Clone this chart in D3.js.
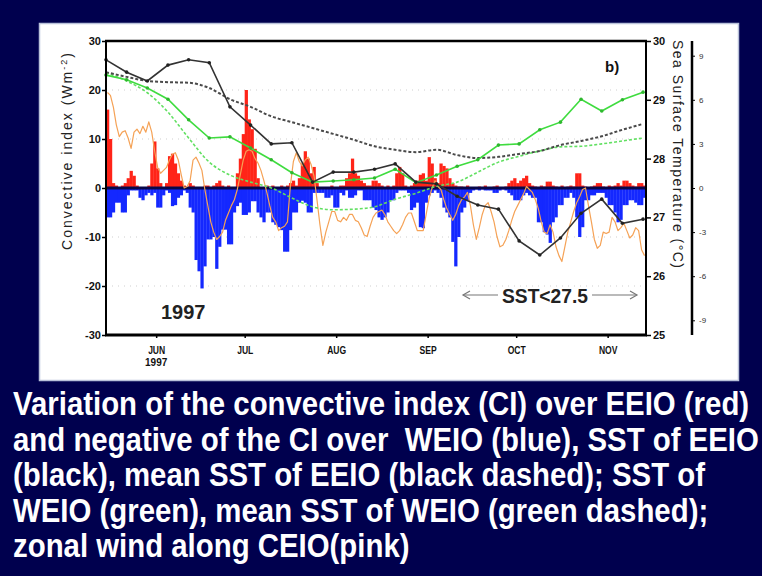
<!DOCTYPE html>
<html>
<head>
<meta charset="utf-8">
<script src="https://cdn.jsdelivr.net/npm/d3@7"></script>
<style>
  html, body { margin: 0; padding: 0; background: #00004e; }
  svg { display: block; }
</style>
</head>
<body>
<svg id="chart" width="762" height="576"></svg>
<script>
// ---- Daily convective index over EEIO (W m-2), 15 May - 13 Nov 1997 ----
const eeioCI = [
  16, 10, 1, 0.5, 0, 0.5, 1, 2, 3.5, 2.5,
  0.5, 0, 0, 0, 0.5, 5, 9.5, 4, 1, 0,
  1, 6.5, 7, 5, 3, 1.5, 0.5, 0, 1, 0.5,
  0, 0, 0, 0.5, 0.5, 0, 0.5, 1, 1.5, 0.5,
  0, 0.5, 0, 0, 3, 6, 11, 20, 14, 12,
  8, 2, 0, 0, 0.5, 0, 0.5, 0, 0, 0.5,
  0, 0.5, 1, 1.5, 0.5, 2, 5, 7.5, 6, 3,
  4.3, 1, 0, 0, 0, 0, 0.5, 0, 0, 0.5,
  0.5, 2, 3, 6, 3, 2.5, 1.5, 1, 0.5, 0.5,
  1.5, 1.5, 1, 0.5, 0, 0.5, 0, 0.5, 3, 4.3,
  3, 0.5, 0, 0.5, 1, 1.5, 2.7, 3, 1.5, 6.3,
  5, 2, 1, 5, 4.5, 4, 2, 1, 0.5, 0.3,
  0.3, 0, 0.5, 0, 0, 0, 0.3, 0, 0.5, 0,
  0, 0.3, 0.5, 0, 0, 0.3, 1, 1.5, 2, 1,
  1.5, 2, 2.5, 1, 0.5, 0.3, 0, 0.5, 0.3, 1.3,
  1.3, 0.5, 0.3, 0, 0.5, 0, 0.3, 0.5, 0.3, 3,
  3, 0.5, 0.3, 0, 0.3, 0.5, 1, 1, 0.3, 0,
  0.5, 0.3, 0.5, 1, 0.5, 1.5, 1.5, 1, 0.5, 0.3,
  1, 1, 0.5
];

// ---- Negative of the daily convective index over WEIO (W m-2) ----
const weioNegCI = [
  -6, -6, -5, -3, -3, -5, -5, -1.5, -0.5, -0.5,
  -0.5, -2, -2.5, -1.5, -1, -1.5, -1, -4, -4, -1.5,
  -0.5, -1, -3.7, -3.5, -2, -1.5, -0.5, -1, -4, -5,
  -14.7, -17, -20.5, -16, -10.5, -10.5, -10, -16.5, -12, -8.5,
  -8.5, -11.5, -11.5, -5, -3.7, -3, -5.5, -5.5, -5, -2.7,
  -2.7, -5, -6, -7, -5, -5, -7, -7.5, -8, -8.6,
  -13, -13, -8.6, -5, -5, -3, -2.6, -3, -5, -5,
  -1, -1, -1, -1, -2, -2, -1.5, -4, -4, -1,
  -1.5, -0.5, -2, -2, -1.5, -0.5, -0.5, -2.5, -2.5, -2.5,
  -4, -4.5, -6, -6.5, -6, -5, -2.5, -2.5, -1, -0.5,
  -0.5, -0.5, -1, -4.5, -4, -3, -8, -8.2, -3, -1.5,
  -1, -0.5, -1, -2, -4, -5, -6, -11, -16, -10,
  -5, -4, -2.5, -1, -0.5, -0.3, -0.5, -0.3, -0.5, -0.5,
  -0.5, -1, -1, -0.5, -0.3, -0.5, -1, -1.5, -2.5, -2.5,
  -2.5, -1.5, -1, -1.5, -2, -2, -7, -7, -9, -9.5,
  -11.2, -7, -6, -3.5, -3.5, -2, -2, -1, -2, -6,
  -10, -8, -2.5, -2.5, -1.5, -1.5, -1, -1, -1, -2,
  -3.5, -3.5, -5, -7, -6.5, -3.5, -3.5, -2.5, -2.5, -3,
  -3.5, -3.5, -2
];

// ---- Daily zonal wind along CEIO (m s-1) ----
const ceioWind = [
  6.5, 6.3, 5.5, 4.3, 3.5, 3.8, 3.9, 3.4, 2.7, 3.8,
  4.0, 3.7, 4.2, 3.8, 4.5, 3.8, 2.5, 1.4, 1.0, 1.2,
  1.4, 1.9, 2.3, 2.4, 1.9, 0.9, 0.0, 0.1, 0.5, 1.9,
  2.1, 1.7, 1.2, -0.1, -1.2, -2.3, -3.0, -3.5, -3.3, -3.0,
  -2.2, -1.7, -1.2, -0.8, -0.1, 0.9, 1.9, 2.5, 2.6, 2.5,
  2.0, 1.7, 1.2, 0.5, -0.3, -1.2, -2.0, -2.3, -2.9, -2.7,
  -2.6, -2.3, 0.2, 1.8, 2.4, 1.8, 1.5, 1.9, 2.1, 1.6,
  0.8, -0.8, -2.5, -3.9, -3.0, -2.3, -1.6, -1.6, -2.2, -2.3,
  -2.0, -2.2, -1.8, -1.8, -2.2, -2.3, -2.7, -3.2, -3.3, -2.6,
  -2.0, -1.7, -1.6, -1.5, -1.8, -2.3, -2.6, -2.9, -3.1, -2.9,
  -2.5, -2.0, -1.7, -1.7, -2.3, -2.9, -2.9, -2.9, -1.8, -0.7,
  0.0, 0.5, 0.1, -0.1, -0.8, -1.4, -1.8, -2.2, -1.8, -1.2,
  -0.8, -0.6, -0.3, -1.2, -2.5, -3.5, -2.7, -1.8, -1.2, -1.0,
  -1.6, -2.3, -3.3, -4.0, -3.9, -3.5, -2.9, -2.2, -1.6, -1.2,
  -0.8, -0.4, 0.1, -0.1, -0.3, -0.8, -1.4, -2.3, -3.0, -3.1,
  -2.5, -3.0, -4.0, -4.6, -5.0, -4.0, -3.0, -2.3, -1.6, -1.0,
  -0.6, -0.1, 0.0, -1.2, -2.3, -3.5, -4.1, -3.9, -3.0, -3.1,
  -3.0, -2.0, -2.3, -2.9, -2.7, -2.4, -2.9, -3.4, -3.2, -2.7,
  -2.9, -4.2, -4.6
];

// ---- Weekly SST (deg C) ----
const sstEEIO = [29.68, 29.47, 29.32, 29.59, 29.68, 29.63, 28.88, 28.57, 28.25, 28.27,
  27.60, 27.77, 27.77, 27.82, 27.91, 27.60, 27.57, 27.36, 27.21, 27.14,
  26.60, 26.36, 26.65, 27.07, 27.31, 26.90, 26.97];
const meanSstEEIO = [29.47, 29.39, 29.32, 29.30, 29.29, 29.20, 29.01, 28.88, 28.72, 28.62,
  28.52, 28.42, 28.32, 28.21, 28.15, 28.11, 28.15, 28.06, 28.01, 28.03,
  28.08, 28.13, 28.23, 28.30, 28.38, 28.49, 28.59];
const sstWEIO = [29.42, 29.34, 29.20, 29.01, 28.66, 28.35, 28.37, 28.18, 27.98, 27.76,
  27.60, 27.62, 27.64, 27.67, 27.82, 27.59, 27.72, 27.87, 27.98, 28.23,
  28.25, 28.49, 28.62, 29.01, 28.81, 29.00, 29.13];
const meanSstWEIO = [29.46, 29.32, 29.12, 28.79, 28.35, 27.94, 27.72, 27.60, 27.50, 27.33,
  27.18, 27.13, 27.14, 27.18, 27.31, 27.41, 27.53, 27.60, 27.77, 27.94,
  28.04, 28.13, 28.20, 28.21, 28.25, 28.30, 28.35];

// ---- Axis ticks and labels ----
const ciTicks = [-30, -20, -10, 0, 10, 20, 30];
const ciGrid = [-20, -10, 10, 20];
const sstTicks = [25, 26, 27, 28, 29, 30];
const windTicks = [-9, -6, -3, 0, 3, 6, 9];
const monthLabels = ["JUN", "JUL", "AUG", "SEP", "OCT", "NOV"];
const captionLines = [
  "Variation of the convective index (CI) over EEIO (red)",
  "and negative of the CI over  WEIO (blue), SST of EEIO",
  "(black), mean SST of EEIO (black dashed); SST of",
  "WEIO (green), mean SST of WEIO (green dashed);",
  "zonal wind along CEIO(pink)"
];

const startDate = new Date(1997, 4, 15);
const endDate = new Date(1997, 10, 14);
const dayDates = d3.range(eeioCI.length).map(i => d3.timeDay.offset(startDate, i));
const weekDates = d3.range(sstEEIO.length).map(i => d3.timeDay.offset(startDate, 7 * i));
const monthStarts = d3.range(5, 11).map(m => new Date(1997, m, 1));

const svg = d3.select("#chart");
const plot = { left: 106, right: 646, top: 41, bottom: 335 };

const x = d3.scaleTime().domain([startDate, endDate]).range([plot.left, plot.right]);
const yCI = d3.scaleLinear().domain([-30, 30]).range([plot.bottom, plot.top]);
const ySST = d3.scaleLinear().domain([25, 30]).range([plot.bottom, plot.top]);
const yWind = d3.scaleLinear().domain([-10, 10]).range([plot.bottom, plot.top]);

const tickFont = "'Liberation Sans', Arial, sans-serif";

// white figure panel
svg.append("rect")
  .attr("x", 39.5).attr("y", 23.5).attr("width", 699).attr("height", 357)
  .attr("fill", "#ffffff").attr("stroke", "#b9c1d9").attr("stroke-width", 1.5);

// faint dotted gridlines
svg.append("g").selectAll("line").data(ciGrid).join("line")
  .attr("x1", plot.left).attr("x2", plot.right)
  .attr("y1", d => yCI(d)).attr("y2", d => yCI(d))
  .attr("stroke", "#cfcfcf").attr("stroke-width", 1).attr("stroke-dasharray", "1,5");

// daily bars
const barW = d => x(d3.timeDay.offset(d, 1)) - x(d) + 0.3;
svg.append("g").selectAll("rect").data(eeioCI).join("rect")
  .attr("x", (v, i) => x(dayDates[i]))
  .attr("width", (v, i) => barW(dayDates[i]))
  .attr("y", v => yCI(v))
  .attr("height", v => yCI(0) - yCI(v))
  .attr("fill", "#ff2418");
svg.append("g").selectAll("rect").data(weioNegCI).join("rect")
  .attr("x", (v, i) => x(dayDates[i]))
  .attr("width", (v, i) => barW(dayDates[i]))
  .attr("y", yCI(0))
  .attr("height", v => yCI(v) - yCI(0))
  .attr("fill", "#1428ff");

// zero line
svg.append("line")
  .attr("x1", plot.left).attr("x2", plot.right)
  .attr("y1", yCI(0)).attr("y2", yCI(0))
  .attr("stroke", "#08084a").attr("stroke-width", 3);

// zonal wind
const midDay = d => d3.timeHour.offset(d, 12);
svg.append("path")
  .datum(ceioWind)
  .attr("fill", "none").attr("stroke", "#f5a256").attr("stroke-width", 1.2)
  .attr("stroke-linejoin", "round")
  .attr("d", d3.line().x((v, i) => x(midDay(dayDates[i]))).y(v => yWind(v)));

// SST curves
function sstLine(values, color, width, dash, curve) {
  svg.append("path")
    .datum(values)
    .attr("fill", "none").attr("stroke", color).attr("stroke-width", width)
    .attr("stroke-dasharray", dash)
    .attr("d", d3.line().curve(curve).x((v, i) => x(weekDates[i])).y(v => ySST(v)));
}
sstLine(meanSstWEIO, "#62e062", 1.6, "3,2", d3.curveMonotoneX);
sstLine(meanSstEEIO, "#4a4a4a", 2, "3,2", d3.curveMonotoneX);
sstLine(sstWEIO, "#3fdc3f", 1.6, null, d3.curveLinear);
sstLine(sstEEIO, "#333333", 1.6, null, d3.curveLinear);

function sstDots(values, color) {
  svg.append("g").selectAll("circle").data(values).join("circle")
    .attr("cx", (v, i) => x(weekDates[i])).attr("cy", v => ySST(v))
    .attr("r", 1.8).attr("fill", color);
}
sstDots(sstWEIO, "#2fb82f");
sstDots(sstEEIO, "#222222");

// frame
const frame = svg.append("g").attr("stroke", "#000").attr("fill", "none");
frame.append("line").attr("x1", plot.left - 1).attr("x2", plot.right + 1)
  .attr("y1", plot.top).attr("y2", plot.top).attr("stroke-width", 2.5);
frame.append("line").attr("x1", plot.left - 1).attr("x2", plot.right + 1)
  .attr("y1", plot.bottom).attr("y2", plot.bottom).attr("stroke-width", 3);
frame.append("line").attr("x1", plot.left).attr("x2", plot.left)
  .attr("y1", plot.top).attr("y2", plot.bottom).attr("stroke-width", 2);
frame.append("line").attr("x1", plot.right).attr("x2", plot.right)
  .attr("y1", plot.top).attr("y2", plot.bottom).attr("stroke-width", 2);

function styleAxis(g, size, weight) {
  g.select(".domain").remove();
  g.selectAll(".tick line").attr("stroke", "#000").attr("stroke-width", 1.5);
  g.selectAll(".tick text").attr("font-family", tickFont)
    .attr("font-size", size).attr("font-weight", weight).attr("fill", "#111");
}

// left axis: convective index
svg.append("g").attr("transform", `translate(${plot.left},0)`)
  .call(d3.axisLeft(yCI).tickValues(ciTicks).tickSize(4).tickPadding(1).tickFormat(d => String(d)))
  .call(g => styleAxis(g, 11, "bold"));

// inner right axis: SST
svg.append("g").attr("transform", `translate(${plot.right},0)`)
  .call(d3.axisRight(ySST).tickValues(sstTicks).tickSize(5).tickPadding(2).tickFormat(d => String(d)))
  .call(g => styleAxis(g, 11, "bold"));

// outer right axis: zonal wind
const windAxis = svg.append("g").attr("transform", "translate(692,0)")
  .call(d3.axisRight(yWind).tickValues(windTicks).tickSize(3).tickPadding(4).tickFormat(d => String(d)));
windAxis.select(".domain").remove();
windAxis.selectAll(".tick line").attr("stroke", "#000").attr("stroke-width", 1);
windAxis.selectAll(".tick text").attr("font-family", tickFont)
  .attr("font-size", 8).attr("fill", "#333");
svg.append("line").attr("x1", 692).attr("x2", 692)
  .attr("y1", plot.top).attr("y2", plot.bottom)
  .attr("stroke", "#000").attr("stroke-width", 2.5);

// month axis
svg.append("g").attr("transform", `translate(0,${plot.bottom})`)
  .call(d3.axisBottom(x).tickValues(monthStarts).tickSize(3).tickPadding(7)
    .tickFormat((d, i) => monthLabels[i]))
  .call(g => styleAxis(g, 9.5, "bold"))
  .call(g => g.selectAll(".tick text").attr("transform", "scale(0.9,1.15)"));
svg.append("text")
  .attr("x", x(monthStarts[0])).attr("y", 366)
  .attr("text-anchor", "middle")
  .attr("font-family", tickFont).attr("font-size", 10).attr("font-weight", "bold")
  .attr("fill", "#111").text("1997");

// axis titles
const leftTitle = svg.append("text")
  .attr("transform", "translate(72,151.5) rotate(-90)")
  .attr("text-anchor", "middle")
  .attr("font-family", tickFont).attr("font-size", 14).attr("fill", "#222")
  .attr("textLength", 197).attr("lengthAdjust", "spacing");
leftTitle.append("tspan").text("Convective index (Wm");
leftTitle.append("tspan").attr("font-size", 9).attr("baseline-shift", "super").text("-2");
leftTitle.append("tspan").text(")");

svg.append("text")
  .attr("transform", "translate(673,154) rotate(90)")
  .attr("text-anchor", "middle")
  .attr("font-family", tickFont).attr("font-size", 14).attr("fill", "#222")
  .attr("textLength", 228).attr("lengthAdjust", "spacing")
  .text("Sea Surface Temperature (°C)");

// annotations
svg.append("text").attr("x", 605).attr("y", 72)
  .attr("font-family", tickFont).attr("font-size", 15).attr("font-weight", "bold")
  .attr("fill", "#111").text("b)");
svg.append("text").attr("x", 161).attr("y", 319)
  .attr("font-family", tickFont).attr("font-size", 20).attr("font-weight", "bold")
  .attr("fill", "#222").text("1997");
svg.append("text").attr("x", 502).attr("y", 303)
  .attr("font-family", tickFont).attr("font-size", 20).attr("font-weight", "bold")
  .attr("fill", "#222").attr("textLength", 86).attr("lengthAdjust", "spacingAndGlyphs")
  .text("SST<27.5");

const arrow = svg.append("g").attr("stroke", "#777").attr("stroke-width", 1.2).attr("fill", "none");
arrow.append("line").attr("x1", 463).attr("x2", 498).attr("y1", 295).attr("y2", 295);
arrow.append("line").attr("x1", 592).attr("x2", 637).attr("y1", 295).attr("y2", 295);
arrow.append("path").attr("d", "M470,291 L463,295 L470,299");
arrow.append("path").attr("d", "M630,291 L637,295 L630,299");

// caption: one horizontal squeeze for all lines so the widest fits the slide
const captionBase = [415, 450.5, 486, 521.5, 557];
const caption = svg.append("g");
const capTexts = caption.selectAll("text").data(captionLines).join("text")
  .attr("x", 0).attr("y", 0)
  .attr("font-family", tickFont).attr("font-size", 33).attr("font-weight", "bold")
  .attr("fill", "#ffffff")
  .attr("style", "white-space:pre")
  .text(d => d);
const widths = capTexts.nodes().map(n => n.getComputedTextLength());
const sx = Math.min(746 / widths[0], 746 / widths[1]);
capTexts.attr("transform", (d, i) => `translate(13,${captionBase[i]}) scale(${sx},1)`);
</script>
</body>
</html>
